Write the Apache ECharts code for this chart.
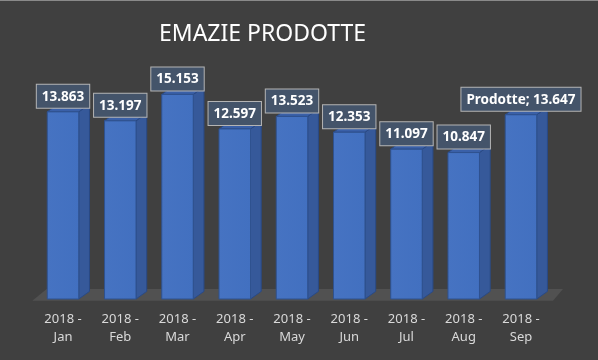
<!DOCTYPE html>
<html><head><meta charset="utf-8">
<script src="https://cdn.jsdelivr.net/npm/echarts@6/dist/echarts.min.js"></script>
<style>html,body{margin:0;padding:0;background:#404040}#c{width:598px;height:360px}</style>
</head><body><div id="c"></div>
<script>
const title = 'EMAZIE PRODOTTE';
const categories = ['2018 -\nJan','2018 -\nFeb','2018 -\nMar','2018 -\nApr','2018 -\nMay','2018 -\nJun','2018 -\nJul','2018 -\nAug','2018 -\nSep'];
const values = [13863, 13197, 15153, 12597, 13523, 12353, 11097, 10847, 13647];
const seriesName = 'Prodotte';
const showSeriesNameFor = [false, false, false, false, false, false, false, false, true];

function fmt(n){ return String(n).replace(/\B(?=(\d{3})+(?!\d))/g, '.'); }

const DX = 10.7, DY = -7.6, BW = 31.5;
const chart = echarts.init(document.getElementById('c'), null, {renderer:'canvas'});
const gridLeft = 34.4, gridRight = 48.4, gridTop = 83, gridBottom = 61;
const baseY = 360 - gridBottom;

chart.setOption({
  backgroundColor: '#404040',
  animation: false,
  title: {
    text: title, left: 159, top: 23, padding: 0,
    textStyle: {color:'#ffffff', fontSize: 23, fontWeight: 'normal', fontFamily: "'Noto Sans',sans-serif"}
  },
  graphic: [
    {type:'rect', z:-1, shape:{x:0,y:0,width:598,height:1}, style:{fill:'#8a8a8a'}},
    {type:'polygon', z:-1, shape:{points:[[32.3, baseY+1.7],[553, baseY+1.7],[563, baseY-10],[46.7, baseY-10]]}, style:{fill:'#515151'}}
  ],
  grid: {left: gridLeft, right: gridRight, top: gridTop, bottom: gridBottom},
  xAxis: {
    type:'category', data: categories,
    axisLine:{show:false}, axisTick:{show:false},
    axisLabel:{color:'#d9d9d9', fontSize:13, lineHeight:18, margin:11, fontFamily:"'Noto Sans',sans-serif", interval:0}
  },
  yAxis: {type:'value', min:0, max:16000, show:false, splitLine:{show:false}},
  series: [{
    type:'custom', name: seriesName,
    data: values.map((v,i)=>[i,v]),
    renderItem: function(params, api){
      const i = api.value(0), v = api.value(1);
      const top = api.coord([i, v]);
      const base = api.coord([i, 0]);
      const x0 = top[0]-BW/2, x1 = top[0]+BW/2;
      const yT = top[1], yB = base[1];
      const label = (showSeriesNameFor[i] ? seriesName + '; ' : '') + fmt(v);
      return {type:'group', children:[
        {type:'polygon', shape:{points:[[x1,yT],[x1+DX,yT+DY],[x1+DX,yB+DY],[x1,yB]]},
          style:{fill:'#36599a', stroke:'#2a4a85', lineWidth:1}},
        {type:'polygon', shape:{points:[[x0,yT],[x0+DX,yT+DY],[x1+DX,yT+DY],[x1,yT]]},
          style:{fill:'#3a60a8', stroke:'#2a4a85', lineWidth:1}},
        {type:'rect', shape:{x:x0, y:yT, width:BW, height:yB-yT},
          style:{fill:new echarts.graphic.LinearGradient(0,0,1,0,[{offset:0,color:'#4673c2'},{offset:1,color:'#4270c0'}]), stroke:'#2f528f', lineWidth:1}},
        {type:'text', x: top[0], y: yT-4,
          style:{text: label, fill:'#ffffff', font:"bold 13.5px 'Noto Sans',sans-serif",
            align:'center', verticalAlign:'bottom', lineHeight:16,
            backgroundColor:'#44546a', borderColor:'#b4b4b4', borderWidth:1, padding:[4,5,3,5]}}
      ]};
    }
  }]
});
</script></body></html>
